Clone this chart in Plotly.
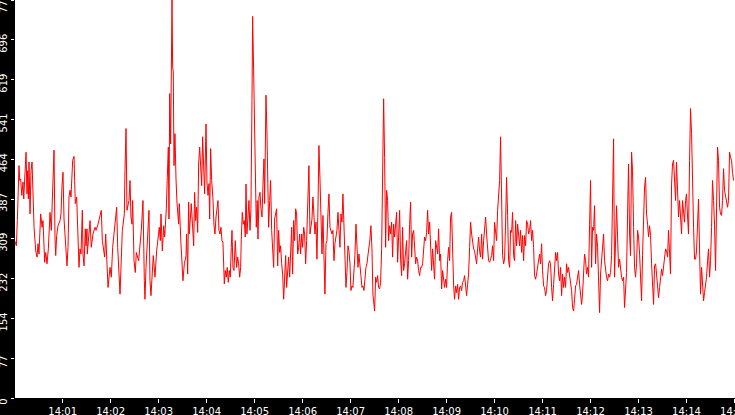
import pandas as pd
import plotly.graph_objects as go

# seconds after 14:00:00 and the reading at that moment
secs = [0, 2.1, 3.3, 5.4, 6.3, 7.5, 8.8, 10.4, 11.3, 12.5, 14.2, 15.4, 15.8, 17.1, 17.9, 19.2, 20.4, 21.7, 22.9, 24.2,
        26.3, 27.9, 29.2, 30.4, 32.5, 34.2, 35.4, 36.3, 37.5, 38.8, 40.4, 42.1, 43.3, 44.2, 45.8, 47.9, 49.2, 50.4, 51.3, 52.5,
        54.2, 56.7, 57.9, 59.2, 60.4, 61.7, 64.6, 65.4, 66.7, 67.9, 69.2, 70.4, 72.5, 74.2, 75.0, 75.8, 77.5, 79.2, 80.4, 81.7,
        82.9, 84.6, 85.4, 86.7, 88.3, 89.2, 90.4, 90.8, 94.2, 95.8, 97.9, 100.4, 101.7, 104.2, 106.7, 108.3, 109.6, 112.5, 113.8, 115.8,
        116.7, 119.2, 120.8, 122.5, 125.0, 127.5, 128.8, 131.3, 131.7, 134.6, 137.1, 137.9, 139.2, 140.4, 142.9, 144.2, 145.4, 146.7, 147.5, 149.2,
        150.8, 152.1, 155.0, 158.3, 159.2, 160.4, 162.1, 162.9, 164.2, 166.7, 167.9, 169.2, 170.4, 173.3, 175.4, 177.5, 180.8, 182.1, 182.9, 184.6,
        186.3, 187.5, 189.6, 190.8, 192.1, 192.9, 193.8, 195.0, 196.7, 197.5, 198.3, 199.2, 200.4, 201.7, 202.9, 205.0, 205.8, 207.9, 209.6, 210.4,
        212.1, 214.2, 215.0, 216.3, 217.5, 218.3, 219.6, 220.8, 223.8,
        225, 226.3, 227.5, 228.8, 230, 231.3, 232.5, 233.8, 235, 236.3, 237.5, 239.2, 240.4, 241.7, 242.9, 243.8, 245, 246.3, 247.9, 249.2,
        250.4, 251.7, 252.9, 254.2, 255.4, 256.7, 257.9, 259.2, 260.4, 261.3, 262.1, 263.3, 264.6, 265.8, 267.1, 268.3, 269.6, 270.8, 271.7, 272.9,
        274.2, 275.8, 277.5, 278.8, 280, 281.3, 282.5, 283.3, 284.6, 285.8, 287.1, 288.3, 289.2, 290.4, 291.7, 292.9, 294.2, 295.4, 296.7, 297.5,
        298.8, 300, 300.8, 302.1, 303.3, 304.2, 305.4, 306.7, 307.9, 309.2, 310.4, 311.7, 312.5, 313.3, 314.2, 315.4, 316.7, 317.5, 318.8, 320,
        321.3, 322.5, 323.8, 325, 326.3, 327.5, 328.8, 330, 331.3, 332.5, 333.8, 335, 336.3, 337.5, 338.8, 340, 341.3, 342.5, 343.8, 345,
        346.3, 347.5, 348.8, 350, 351.3, 352.5, 353.8, 355, 356.3, 357.5, 358.8, 360, 361.3, 362.5, 363.8, 365, 366.7, 367.9, 369.2, 370.4,
        371.7, 372.9, 374.2, 375.4, 376.7, 377.9, 379.2, 380.4, 381.7, 382.9, 384.2, 385.4, 386.7, 387.9, 389.2, 390.4, 391.7, 392.9, 394.2, 395.4,
        396.7, 397.9, 399.2, 400.4, 401.7, 402.9, 404.2, 405.4, 406.7, 407.9, 409.2, 410.4, 411.7, 412.9, 414.2, 415.4, 416.7, 417.9, 419.2, 420.4,
        421.7, 422.9, 424.2, 425.4, 426.7, 427.9, 429.2, 430.4, 431.7, 432.9, 434.2, 435.4, 436.7, 437.9, 439.2, 440.4, 441.7, 442.9, 444.2, 445.4,
        446.7, 447.9, 449.2,
        450, 451.3, 452.5, 453.8, 455, 456.3, 457.5, 458.8, 460, 461.3, 462.5, 463.8, 465, 466.3, 467.5, 468.8, 470, 471.3, 472.5, 473.8,
        475, 476.3, 477.5, 478.8, 480, 481.3, 482.5, 483.8, 485, 486.3, 487.5, 488.8, 490, 491.3, 492.5, 493.8, 495, 496.3, 497.5, 498.8,
        500, 501.3, 502.5, 503.8, 505, 506.3, 507.5, 508.8, 510, 511.3, 512.5, 513.8, 515, 516.3, 517.5, 518.8, 520, 521.3, 522.5, 523.8,
        525, 526.3, 527.5, 528.8, 530, 531.3, 532.5, 533.8, 535, 536.3, 537.5, 538.8, 540, 541.3, 542.5, 543.8, 545, 546.3, 547.5, 548.8,
        550, 551.3, 552.5, 553.8, 555, 556.3, 557.5, 558.8, 560, 561.3, 562.5, 563.8, 565, 566.3, 567.5, 568.8, 570, 571.3, 572.5, 573.8,
        575, 576.3, 577.5, 578.8, 580, 581.3, 582.5, 583.8, 585, 586.3, 587.5, 588.8, 590, 591.3, 592.5, 593.8, 595, 596.3, 597.5, 598.8,
        600, 601.3, 602.5, 603.8, 605, 606.3, 607.5, 608.8, 610, 611.3, 612.5, 613.8, 615, 616.3, 617.5, 618.8, 620, 621.3, 622.5, 623.8,
        625, 626.3, 627.5, 628.8, 630, 631.3, 632.5, 633.8, 635, 636.3, 637.5, 638.8, 640, 641.3, 642.5, 643.8, 645, 646.3, 647.5, 648.8,
        650, 651.3, 652.5, 653.8, 655, 656.3, 657.5, 658.8, 660, 661.3, 662.5, 663.8, 665, 666.3, 667.5, 668.8, 670, 671.3, 672.5, 673.8,
        675, 676.3, 677.5, 678.8, 680, 681.3, 682.5, 683.8, 685, 686.3, 687.5, 688.8, 690, 691.3, 692.5, 693.8, 695, 696.3, 697.5, 698.8,
        700, 701.3, 702.5, 703.8, 705, 706.3, 707.5, 708.8, 710, 711.3, 712.5, 713.8, 715, 716.3, 717.5, 718.8, 720, 721.3, 722.5, 723.8,
        725, 726.3, 727.5, 728.8, 730, 731.3, 732.5, 733.8, 735, 736.3, 737.5, 738.8, 740, 741.3, 742.5, 743.8, 745, 746.3, 747.5, 748.8,
        750, 751.3, 752.5, 753.8, 755, 756.3, 757.5, 758.8, 760, 761.3, 762.5, 763.8, 765, 766.3, 767.5, 768.8, 770, 771.3, 772.5, 773.8,
        775, 776.3, 777.5, 778.8, 780, 781.3, 782.5, 783.8, 785, 786.3, 787.5, 788.8, 790, 791.3, 792.5, 793.8, 795, 796.3, 797.5, 798.8,
        800, 801.3, 802.5, 803.8, 805, 806.3, 807.5, 808.8, 810, 811.3, 812.5, 813.8, 815, 816.3, 817.5, 818.8, 820, 821.3, 822.5, 823.8,
        825, 826.3, 827.5, 828.8, 830, 831.3, 832.5, 833.8, 835, 836.3, 837.5, 838.8, 840, 841.3, 842.5, 843.8, 845, 846.3, 847.5, 848.8,
        850, 851.3, 852.5, 853.8, 855, 856.3, 857.5, 858.8, 860, 861.3, 862.5, 863.8, 865, 866.3, 867.5, 868.8, 870, 871.3, 872.5, 873.8,
        875, 876.3, 877.5, 878.8, 880, 881.3, 882.5, 883.8, 885, 886.3, 887.5, 888.8, 890, 891.3, 892.5, 893.8, 895, 896.3, 897.5, 898.8]

vals = [306, 296, 345, 452, 423, 426, 394, 420, 387, 423, 478, 397, 442, 387, 459, 358, 442, 459, 397, 332,
        286, 274, 300, 280, 358, 332, 345, 319, 264, 283, 261, 290, 332, 361, 326, 413, 482, 313, 277, 316,
        335, 345, 358, 413, 439, 348, 290, 257, 293, 391, 404, 391, 462, 470, 423, 378, 391, 286, 254, 290,
        280, 365, 280, 257, 329, 296, 329, 280, 345, 293, 319, 332, 326, 338, 358, 365, 306, 274, 319, 241,
        215, 254, 235, 293, 338, 371, 293, 222, 202, 326, 358, 442, 524, 365, 384, 423, 352, 338, 384, 267,
        244, 283, 267, 326, 345, 384, 228, 192, 254, 326, 365, 228, 199, 277, 235, 286, 332, 306, 358, 286,
        335, 313, 368, 429, 488, 348, 592, 494, 774, 644, 634, 452, 514, 426, 381, 338, 378, 300, 244, 228,
        261, 277, 319, 241, 381, 319, 348, 378, 296,
        400, 345, 371, 322, 455, 488, 452, 413, 508, 420, 397, 533, 420, 394, 417, 348, 485, 423, 387, 335,
        319, 352, 368, 384, 326, 319, 332, 306, 303, 248, 222, 248, 235, 254, 225, 248, 235, 293, 326, 254,
        248, 306, 254, 274, 261, 235, 254, 309, 361, 338, 345, 313, 416, 319, 358, 384, 326, 368, 579, 742,
        634, 524, 413, 332, 384, 309, 391, 400, 368, 352, 413, 465, 378, 485, 589, 517, 429, 332, 384, 423,
        326, 277, 254, 348, 358, 368, 257, 326, 283, 296, 261, 241, 192, 228, 277, 215, 254, 274, 235, 286,
        332, 241, 345, 306, 368, 358, 280, 293, 319, 280, 319, 293, 332, 319, 261, 306, 413, 452, 319, 338,
        348, 391, 358, 319, 342, 270, 371, 491, 426, 319, 280, 355, 286, 202, 300, 306, 361, 397, 332, 326,
        319, 326, 267, 300, 313, 326, 361, 335, 293, 358, 342, 397, 332, 238, 215, 244, 296, 286, 261, 209,
        218, 215, 241, 277, 338, 306, 254, 280, 248, 238, 215, 218, 209, 241, 254, 261, 277, 286, 309, 335,
        290, 202, 169,
        169, 235, 225, 238, 215, 212, 225, 290, 459, 582, 468, 293, 404, 384, 306, 335, 319, 342, 274, 338,
        313, 342, 361, 264, 319, 365, 270, 238, 332, 248, 261, 293, 306, 231, 267, 338, 381, 274, 319, 326,
        300, 261, 274, 267, 248, 238, 254, 254, 261, 290, 313, 306, 322, 365, 319, 342, 293, 248, 290, 254,
        231, 306, 290, 280, 329, 267, 280, 212, 248, 235, 215, 231, 215, 267, 293, 267, 352, 361, 280, 218,
        192, 218, 205, 221, 192, 215, 218, 209, 225, 228, 238, 221, 199, 221, 241, 293, 342, 319, 300, 290,
        286, 274, 261, 290, 313, 286, 274, 319, 270, 306, 332, 352, 319, 293, 267, 264, 270, 277, 296, 267,
        342, 313, 306, 365, 397, 423, 508, 345, 277, 261, 270, 342, 429, 355, 267, 254, 326, 322, 361, 277,
        267, 345, 296, 338, 319, 296, 326, 283, 316, 267, 316, 296, 345, 338, 319, 326, 345, 306, 326, 293,
        238, 231, 241, 254, 267, 280, 261, 300, 248, 218, 215, 199, 209, 241, 261, 267, 261, 215, 189, 221,
        254, 283, 267, 283, 241, 228, 254, 199, 241, 215, 235, 215, 261, 244, 254, 241, 225, 209, 176, 169,
        192, 218, 221, 238, 248, 221, 205, 182, 202, 235, 280, 267, 241, 254, 235, 338, 423, 254, 332, 326,
        374, 261, 319, 293, 228, 166, 241, 267, 283, 319, 267, 241, 235, 228, 241, 235, 244, 277, 413, 504,
        235, 348, 374, 313, 254, 270, 244, 235, 228, 235, 176, 209, 244, 358, 455, 319, 277, 478, 442, 332,
        254, 235, 261, 326, 313, 280, 221, 189, 277, 378, 410, 429, 358, 338, 313, 335, 316, 261, 209, 182,
        257, 261, 241, 221, 195, 215, 235, 251, 238, 257, 277, 290, 286, 274, 326, 293, 241, 416, 455, 462,
        429, 384, 459, 397, 352, 384, 358, 319, 384, 358, 342, 384, 397, 352, 319, 462, 563, 514, 400, 332,
        270, 270, 286, 345, 387, 286, 202, 254, 221, 189, 205, 221, 235, 267, 290, 235, 267, 332, 423, 384,
        338, 248, 358, 488, 462, 371, 358, 355, 384, 446, 404, 391, 384, 371, 384, 478, 468, 462, 439, 423]

y_ticks = [0, 77.4, 154.8, 232.2, 309.6, 387, 464.4, 541.8, 619.2, 696.6, 774]
y_labels = ["0", "77", "154", "232", "309", "387", "464", "541", "619", "696", "774"]

base = pd.Timestamp("2024-01-01 14:00:00")
times = base + pd.to_timedelta(secs, unit="s")

fig = go.Figure()
fig.add_trace(go.Scatter(
    x=times,
    y=vals,
    mode="lines",
    line=dict(color="rgb(255, 0, 0)", width=1),
    showlegend=False,
))

fig.update_layout(
    width=735,
    height=415,
    margin=dict(l=15, r=0, t=0, b=17, pad=0),
    paper_bgcolor="black",
    plot_bgcolor="white",
    font=dict(family="DejaVu Sans", size=10, color="white"),
    xaxis=dict(
        type="date",
        range=[base + pd.Timedelta(seconds=0.4), base + pd.Timedelta(seconds=900.6)],
        dtick=60000,
        tickformat="%H:%M",
        ticks="outside",
        ticklen=4,
        tickcolor="white",
        ticklabelstandoff=0,
        ticklabeloverflow="allow",
        automargin=False,
        showgrid=False,
        zeroline=False,
        showline=False,
    ),
    yaxis=dict(
        range=[0, 774],
        tickvals=y_ticks,
        ticktext=y_labels,
        tickangle=-90,
        ticks="outside",
        ticklen=3,
        tickcolor="white",
        ticklabelshift=5,
        ticklabelstandoff=0,
        ticklabeloverflow="allow",
        tickfont=dict(size=10),
        automargin=False,
        showgrid=False,
        zeroline=False,
        showline=False,
    ),
)

# the page has a default 8px body margin; drop it so the chart fills the window
fig.write_html("out.html", config={"displayModeBar": False},
               post_script="document.body.style.margin = '0';")
